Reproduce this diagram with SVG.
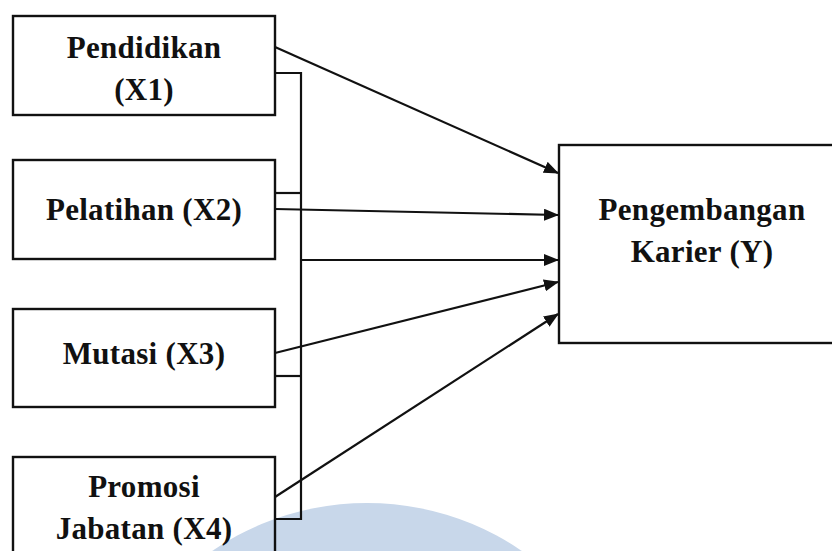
<svg xmlns="http://www.w3.org/2000/svg" width="832" height="551" viewBox="0 0 832 551">
<style>
.box{fill:none;stroke:#111;stroke-width:2.4}
.lbl{font-family:"Liberation Serif","Times New Roman",serif;font-weight:bold;font-size:31px;fill:#111;text-anchor:middle;letter-spacing:0.3px}
.con{stroke:#111;stroke-width:2.2;fill:none}
</style>
<defs>
<marker id="ah" viewBox="0 0 15 12" refX="14" refY="6" markerWidth="15" markerHeight="12" markerUnits="userSpaceOnUse" orient="auto">
<path d="M0,0 L15,6 L0,12 z" fill="#111"/>
</marker>
</defs>
<rect width="832" height="551" fill="#fff"/>
<circle cx="367" cy="777" r="274" fill="#c8d7ea"/>
<g id="x1">
<rect class="box" x="13" y="16" width="262" height="99"/>
<text class="lbl" x="144" y="58">Pendidikan</text>
<text class="lbl" x="144" y="100">(X1)</text>
</g>
<g id="x2">
<rect class="box" x="13" y="160" width="262" height="99"/>
<text class="lbl" x="144" y="220">Pelatihan (X2)</text>
</g>
<g id="x3">
<rect class="box" x="13" y="309" width="262" height="98"/>
<text class="lbl" x="144" y="364">Mutasi (X3)</text>
</g>
<g id="x4">
<rect class="box" x="13" y="457" width="262" height="110"/>
<text class="lbl" x="144" y="497">Promosi</text>
<text class="lbl" x="144" y="539">Jabatan (X4)</text>
</g>
<g id="y">
<rect class="box" x="559" y="145" width="290" height="198"/>
<text class="lbl" x="702" y="220">Pengembangan</text>
<text class="lbl" x="702" y="262">Karier (Y)</text>
</g>
<g id="connectors">
<polyline class="con" points="275,73 301,73 301,519 275,519"/>
<line class="con" x1="275" y1="193" x2="301" y2="193"/>
<line class="con" x1="275" y1="376" x2="301" y2="376"/>
<line class="con" x1="275" y1="47" x2="558" y2="173" marker-end="url(#ah)"/>
<line class="con" x1="275" y1="209" x2="558" y2="215" marker-end="url(#ah)"/>
<line class="con" x1="301" y1="260" x2="558" y2="260" marker-end="url(#ah)"/>
<line class="con" x1="275" y1="353" x2="558" y2="282" marker-end="url(#ah)"/>
<line class="con" x1="275" y1="497" x2="558" y2="314" marker-end="url(#ah)"/>
</g>
</svg>
